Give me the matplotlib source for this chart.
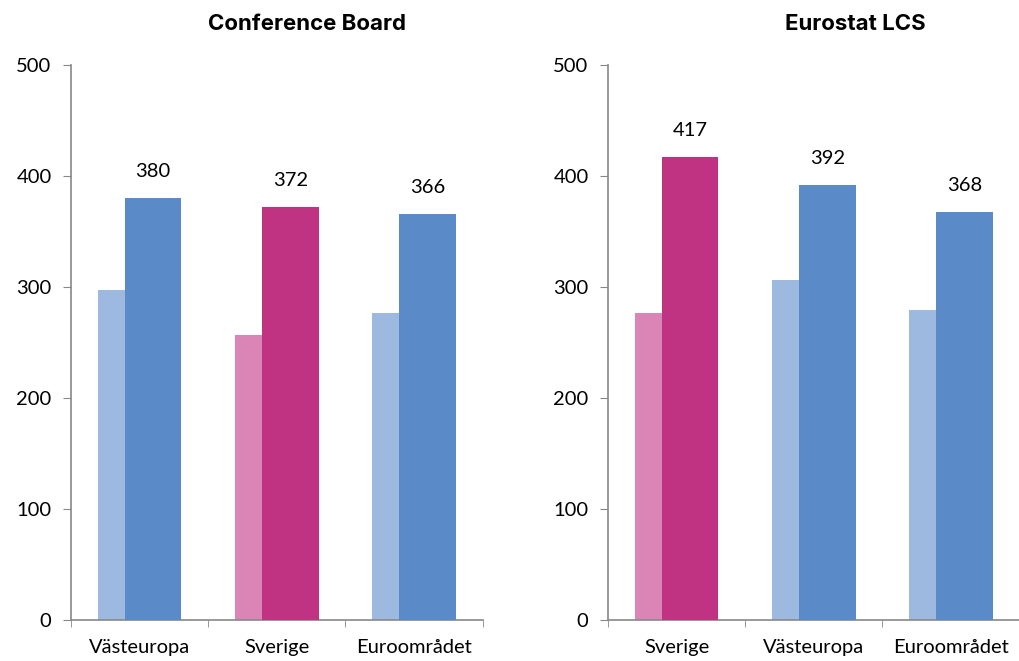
import numpy as np
import matplotlib.pyplot as plt

# Conference Board
cb_categories = ['Västeuropa', 'Sverige', 'Euroområdet']
cb_light = [297, 257, 277]
cb_dark = [380, 372, 366]

# Eurostat LCS
lcs_categories = ['Sverige', 'Västeuropa', 'Euroområdet']
lcs_light = [277, 306, 279]
lcs_dark = [417, 392, 368]

BLUE_LIGHT = '#9DB9DF'
BLUE_DARK = '#5A8AC8'
PINK_LIGHT = '#DB84B6'
PINK_DARK = '#C03382'
AXIS_GRAY = '#888888'

plt.rcParams['font.family'] = ['Lato', 'DejaVu Sans']
FS = 14.5


def draw_panel(ax, categories, light, dark):
    x = np.arange(len(categories))
    width = 0.413
    off = 0.098
    light_cols = [PINK_LIGHT if c == 'Sverige' else BLUE_LIGHT for c in categories]
    dark_cols = [PINK_DARK if c == 'Sverige' else BLUE_DARK for c in categories]
    ax.bar(x - off, light, width, color=light_cols, zorder=2)
    bars = ax.bar(x + off, dark, width, color=dark_cols, zorder=3)
    for b, v in zip(bars, dark):
        ax.annotate(str(v), (b.get_x() + b.get_width() / 2, v),
                    xytext=(0, 19), textcoords='offset points',
                    ha='center', va='center', fontsize=FS)

    ax.set_xlim(-0.5, len(categories) - 0.5)
    ax.set_ylim(0, 500)
    ax.set_yticks([0, 100, 200, 300, 400, 500])
    ax.set_xticks(x)
    ax.set_xticklabels(categories)
    ax.set_xticks(np.arange(len(categories) + 1) - 0.5, minor=True)
    ax.tick_params(axis='x', which='major', length=0, pad=14, labelsize=FS)
    ax.tick_params(axis='x', which='minor', length=5, color=AXIS_GRAY, direction='out')
    ax.tick_params(axis='y', length=6, color=AXIS_GRAY, pad=8, labelsize=FS)
    for s in ['top', 'right']:
        ax.spines[s].set_visible(False)
    for s in ['left', 'bottom']:
        ax.spines[s].set_color(AXIS_GRAY)
        ax.spines[s].set_linewidth(1.2)


fig = plt.figure(figsize=(10.19, 6.61), dpi=100)
ax1 = fig.add_axes([0.0697, 0.062, 0.404, 0.8396])
ax2 = fig.add_axes([0.5967, 0.062, 0.404, 0.8396])

draw_panel(ax1, cb_categories, cb_light, cb_dark)
draw_panel(ax2, lcs_categories, lcs_light, lcs_dark)

fig.text(0.301, 0.964, 'Conference Board', ha='center', va='center',
         fontsize=16, fontweight='bold', family=['Inter', 'DejaVu Sans'])
fig.text(0.839, 0.964, 'Eurostat LCS', ha='center', va='center',
         fontsize=16, fontweight='bold', family=['Inter', 'DejaVu Sans'])

fig.savefig('out.png', dpi=100)
